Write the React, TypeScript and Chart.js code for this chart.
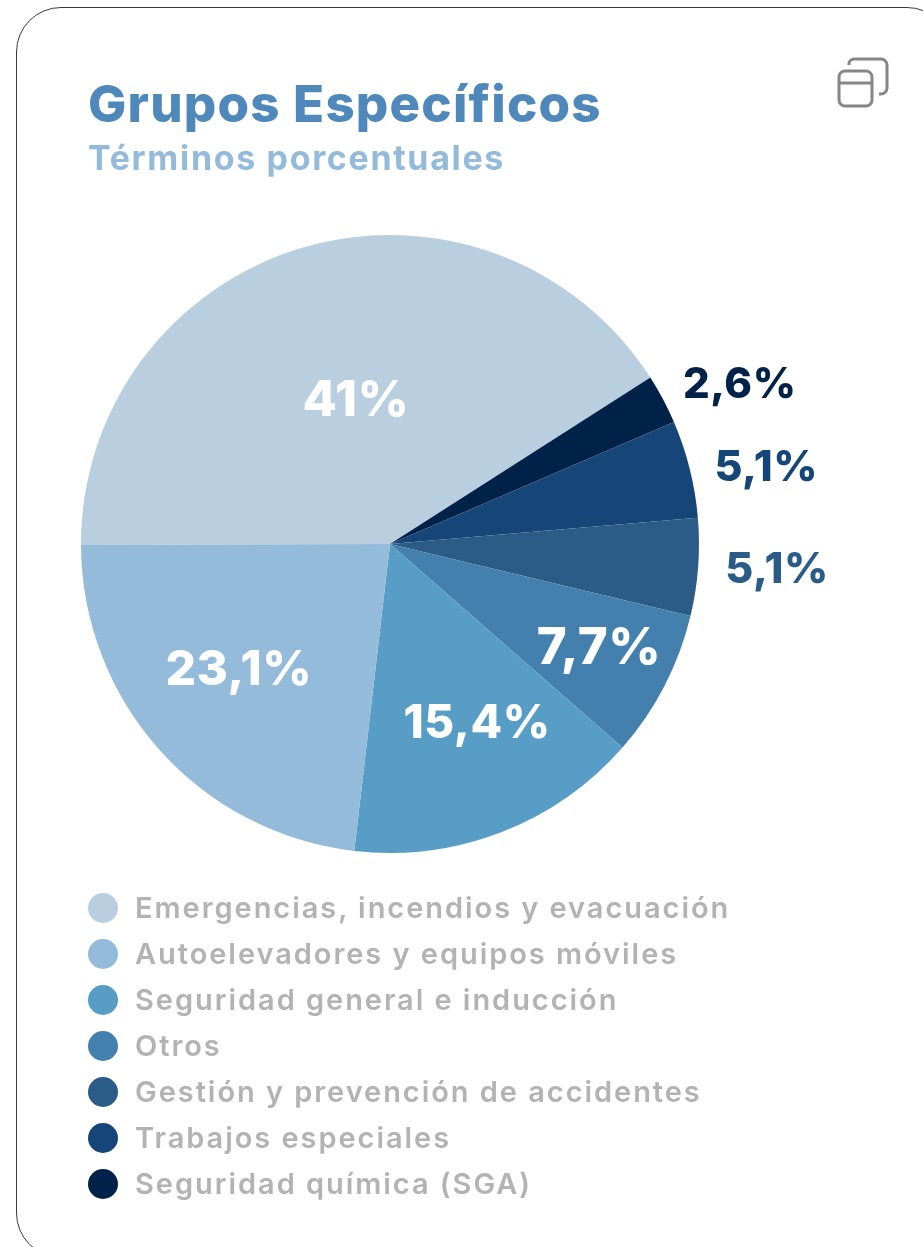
import React, { useEffect, useRef } from "react";
import { Chart, registerables } from "chart.js";

Chart.register(...registerables);

const legendLabels = [
  "Emergencias, incendios y evacuación",
  "Autoelevadores y equipos móviles",
  "Seguridad general e inducción",
  "Otros",
  "Gestión y prevención de accidentes",
  "Trabajos especiales",
  "Seguridad química (SGA)",
];
const legendColors = ["#b9cfe0", "#94bbd9", "#579dc6", "#4480ad", "#2a5c87", "#154677", "#012248"];
const legendValues = [41, 23.1, 15.4, 7.7, 5.1, 5.1, 2.6];

// The slices run clockwise from 9 o'clock: first entry, then the others backwards.
const sliceOrder = [0, 6, 5, 4, 3, 2, 1];
const labelRadius = [0.482, 1.246, 1.243, 1.255, 0.754, 0.641, 0.633];
const labelShiftDeg = [3.2, 3.2, 2.4, -0.8, -1.1, -5, 2.4];
const labelColors = ["#ffffff", "#012248", "#154677", "#2a5c87", "#ffffff", "#ffffff", "#ffffff"];
const labelSizes = [50, 42, 43, 43, 51, 46, 48];

const FONT = "Inter, 'Noto Sans', sans-serif";

const valueLabels = {
  id: "valueLabels",
  afterDatasetsDraw(chart: any) {
    const { ctx } = chart;
    const arcs = chart.getDatasetMeta(0).data;
    const values = chart.data.datasets[0].data;
    ctx.save();
    ctx.textAlign = "center";
    ctx.textBaseline = "middle";
    arcs.forEach((arc: any, i: number) => {
      const mid = (arc.startAngle + arc.endAngle) / 2 + (labelShiftDeg[i] * Math.PI) / 180;
      const r = arc.outerRadius * labelRadius[i];
      ctx.font = `800 ${labelSizes[i]}px ${FONT}`;
      ctx.letterSpacing = "0.5px";
      ctx.fillStyle = labelColors[i];
      const text = String(values[i]).replace(".", ",") + "%";
      ctx.fillText(text, arc.x + Math.cos(mid) * r, arc.y + Math.sin(mid) * r + 2);
    });
    ctx.restore();
  },
};

export default function App() {
  const ref = useRef<HTMLCanvasElement>(null);
  useEffect(() => {
    const chart = new Chart(ref.current!, {
      type: "pie",
      data: {
        labels: sliceOrder.map((i) => legendLabels[i]),
        datasets: [
          {
            data: sliceOrder.map((i) => legendValues[i]),
            backgroundColor: sliceOrder.map((i) => legendColors[i]),
            borderWidth: 0,
          },
        ],
      },
      options: {
        animation: false,
        responsive: false,
        rotation: -90.2,
        layout: { padding: { left: 81, right: 224, top: 235, bottom: 394 } },
        plugins: { legend: { display: false }, tooltip: { enabled: false } },
      },
      plugins: [valueLabels],
    });
    return () => chart.destroy();
  }, []);

  return (
    <div style={{ position: "fixed", left: 0, top: 0, width: 923, height: 1247, overflow: "hidden", background: "#fff", fontFamily: FONT }}>
      <div style={{ position: "absolute", left: 16, top: 7, width: 936, height: 1251, border: "1.5px solid #3a3a3a", borderRadius: 45, boxSizing: "border-box" }} />
      <canvas ref={ref} width={923} height={1247} style={{ position: "absolute", left: 0, top: 0, width: 923, height: 1247 }} />
      <div style={{ position: "absolute", left: 88, top: 73, fontSize: 51, fontWeight: 800, letterSpacing: 1.2, color: "#4f88ba", lineHeight: "62px", whiteSpace: "nowrap" }}>Grupos Específicos</div>
      <div style={{ position: "absolute", left: 88, top: 137, fontSize: 34, fontWeight: 700, letterSpacing: 1.65, color: "#94bbd9", lineHeight: "42px", whiteSpace: "nowrap" }}>Términos porcentuales</div>
      <svg style={{ position: "absolute", left: 836, top: 56 }} width={54} height={54} viewBox="0 0 54 54" fill="none" stroke="#868686" strokeWidth={3}>
        <rect x={3} y={15} width={33} height={35} rx={6} />
        <path d="M3 27 H36" />
        <path d="M13 9 V8 a5 5 0 0 1 5 -5 H45 a6 6 0 0 1 6 6 V32 a6 6 0 0 1 -6 6 H43" />
      </svg>
      {legendLabels.map((label, i) => (
        <div key={label} style={{ position: "absolute", left: 88, top: 893 + i * 46, height: 30, display: "flex", alignItems: "center", whiteSpace: "nowrap" }}>
          <span style={{ width: 30, height: 30, borderRadius: "50%", background: legendColors[i], marginRight: 17, flex: "none" }} />
          <span style={{ fontSize: 29, fontWeight: 600, color: "#b3b3b3", letterSpacing: 1.95, position: "relative", top: -1 }}>{label}</span>
        </div>
      ))}
    </div>
  );
}
